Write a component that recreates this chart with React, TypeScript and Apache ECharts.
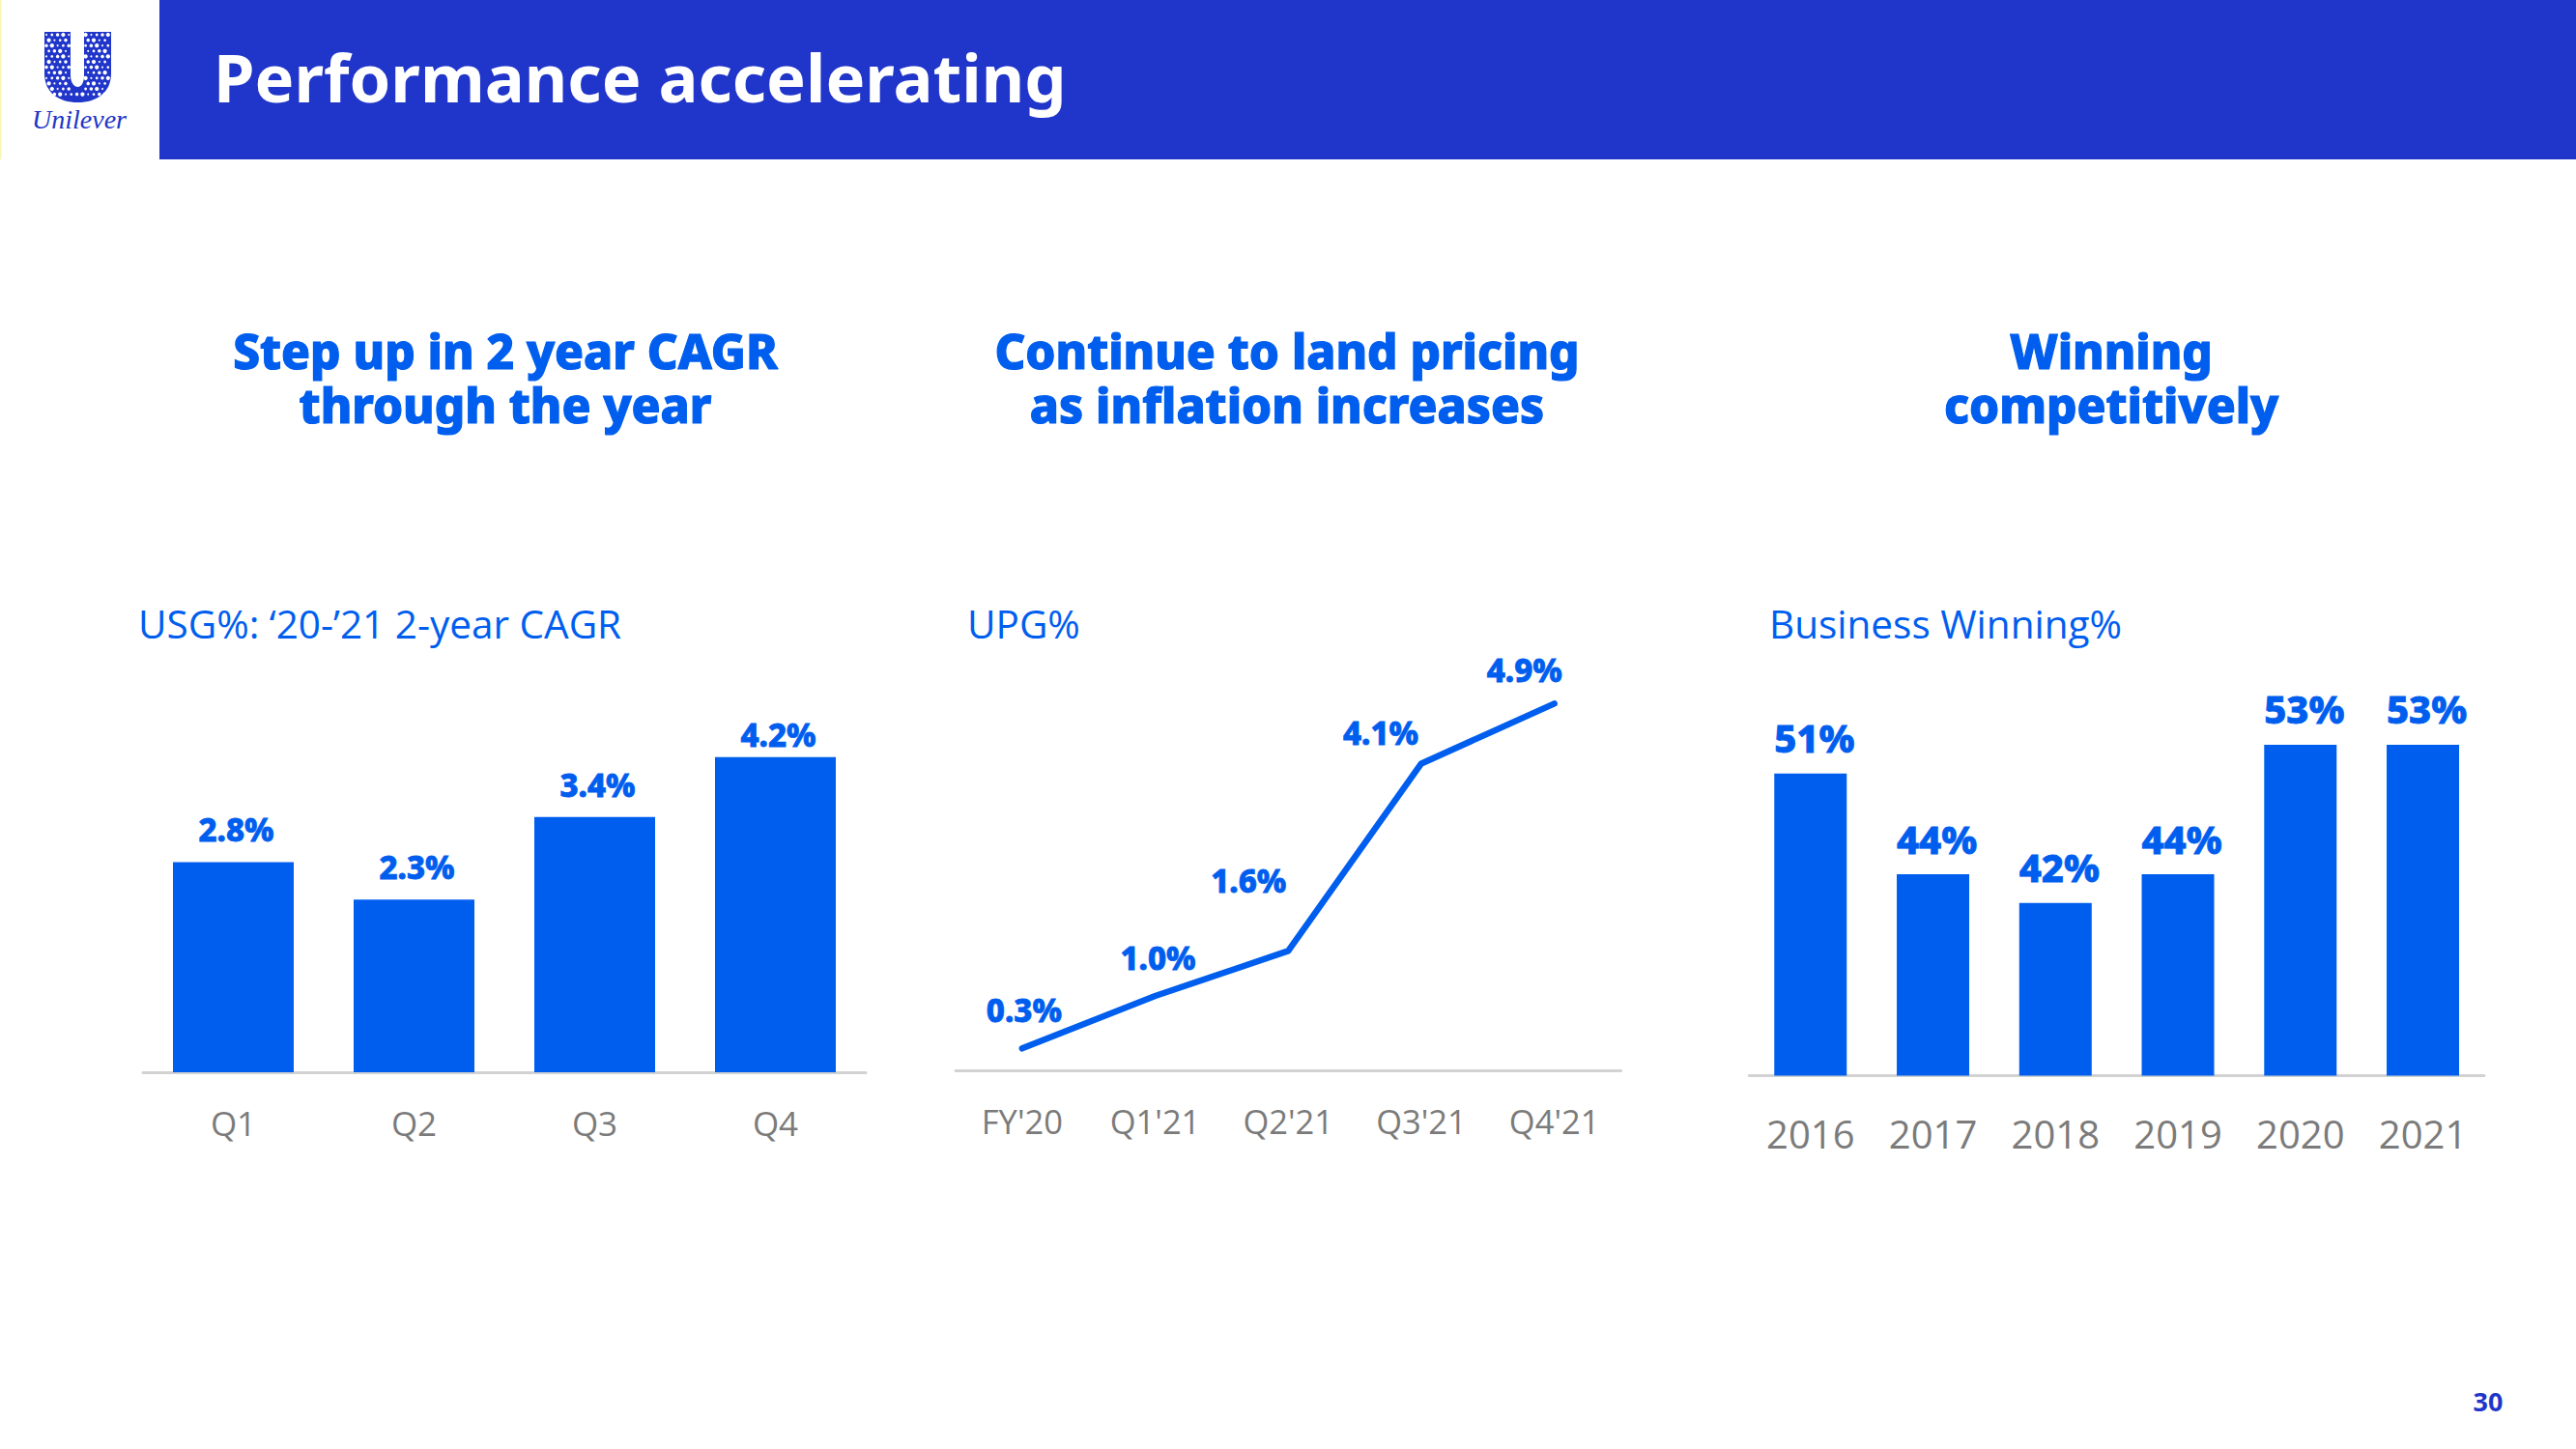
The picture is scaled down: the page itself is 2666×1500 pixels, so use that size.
import React, { useEffect, useRef } from "react";
import * as echarts from "echarts";

const pageTitle = "Performance accelerating";
const headings = [
  ["Step up in 2 year CAGR", "through the year"],
  ["Continue to land pricing", "as inflation increases"],
  ["Winning", "competitively"],
];
const subTitles = ["USG%: ‘20-’21 2-year CAGR", "UPG%", "Business Winning%"];

const usgCategories = ["Q1", "Q2", "Q3", "Q4"];
const usgValues = [2.8, 2.3, 3.4, 4.2];
const upgCategories = ["FY'20", "Q1'21", "Q2'21", "Q3'21", "Q4'21"];
const upgValues = [0.3, 1.0, 1.6, 4.1, 4.9];
const winCategories = ["2016", "2017", "2018", "2019", "2020", "2021"];
const winValues = [51, 44, 42, 44, 53, 53];
const pageNumber = "30";

const usgLabelOffsets = [[3, 0], [3, 0], [3, 0], [3, 10]];
const upgLabelOffsets = [[2, -6], [3, -6], [-41, -39], [-42, 2], [-31, -1]];

const BLUE = "#005eef";
const NAVY = "#2035c9";
const GREY = "#7b7b7b";
const AXIS = "#d2d2d2";
const SANS = "'Noto Sans', 'Open Sans', sans-serif";
const TEXT = "'Open Sans', 'Noto Sans', sans-serif";

const U_PATH =
  "M46 33 H73 V78 C73 86 77 90 80.5 90 C84 90 87 86 87 78 V33 H115 V76 C115 96 100 106 80.5 106 C61 106 46 96 46 76 Z";

function logoDots() {
  const dots: any[] = [];
  for (let r = 0; r < 13; r++) {
    for (let c = 0; c < 12; c++) {
      const x = 48 + c * 5.8 + (r % 2) * 2.6;
      const y = 36 + r * 5.6;
      const inArm = x < 72 || x > 88;
      const inBase = y > 92 && x > 50 && x < 112;
      if (!(inArm || inBase) || x > 113 || y > 103) continue;
      if (y > 84 && (x < 50 || x > 111)) continue;
      dots.push({
        type: "circle",
        shape: { cx: x, cy: y, r: 1 + ((r * 3 + c * 5) % 4) * 0.38 },
        style: { fill: "#ffffff" },
        silent: true,
      });
    }
  }
  return dots;
}

function placedText(text: string, x: number, y: number, fontSize: number, fontWeight: any, fill: string, fontFamily = SANS, align = "center", extra: any = {}) {
  return {
    type: "text",
    x,
    y,
    silent: true,
    style: { text, fontSize, fontWeight, fill, fontFamily, align, verticalAlign: "middle", ...extra },
  };
}

const axisLine = { show: true, lineStyle: { color: AXIS, width: 3 } };

export default function App() {
  const ref = useRef<HTMLDivElement>(null);

  useEffect(() => {
    echarts.graphic.registerShape("unileverU", echarts.graphic.extendPath(U_PATH, {}) as any);
    const chart = echarts.init(ref.current!, undefined, { renderer: "svg", width: 2666, height: 1500 });

    const headingCenters = [523, 1332, 2185];
    const subLefts = [143, 1001, 1831];
    const graphics: any[] = [
      { type: "rect", shape: { x: 165, y: 0, width: 2501, height: 165 }, style: { fill: NAVY }, silent: true },
      { type: "rect", shape: { x: 0, y: 0, width: 1.5, height: 165 }, style: { fill: "#fbf6b4" }, silent: true },
      { type: "unileverU", x: 0, y: 0, style: { fill: NAVY }, silent: true },
      ...logoDots(),
      placedText("Unilever", 82, 123, 28, "normal", NAVY, "'Liberation Serif', serif", "center", { fontStyle: "italic" }),
      placedText(pageTitle, 221, 79, 68.5, 700, "#ffffff", SANS, "left"),
      placedText(pageNumber, 2575, 1450, 27, 700, NAVY),
    ];
    headings.forEach((lines, i) => {
      graphics.push(
        placedText(lines.join("\n"), headingCenters[i], 391, 49.5, 800, BLUE, SANS, "center", {
          lineHeight: 56,
          stroke: BLUE,
          lineWidth: 1.2,
        })
      );
    });
    subTitles.forEach((s, i) => {
      graphics.push(placedText(s, subLefts[i], 645, 40.5, 400, BLUE, TEXT, "left"));
    });

    const xAxisBase = { type: "category", axisTick: { show: false }, axisLine };
    const tick = (fontSize: number, margin: number) => ({
      color: GREY, fontSize, fontFamily: TEXT, margin, interval: 0,
    });
    const valueLabel = (fontSize: number, distance: number, formatter: any) => ({
      show: true, position: "top", distance, color: BLUE, fontSize, fontWeight: 800,
      fontFamily: SANS, textBorderColor: BLUE, textBorderWidth: 0.8, formatter,
    });

    chart.setOption({
      animation: false,
      backgroundColor: "#ffffff",
      grid: [
        { left: 148, width: 748, top: 721.5, height: 388.5 },
        { left: 989, width: 688.5, top: 720.6, height: 388 },
        { left: 1810.4, width: 760.5, top: 666.6, height: 447 },
      ],
      xAxis: [
        { ...xAxisBase, gridIndex: 0, data: usgCategories, axisLabel: tick(35, 35) },
        { ...xAxisBase, gridIndex: 1, data: upgCategories, axisLabel: tick(34.5, 34) },
        { ...xAxisBase, gridIndex: 2, data: winCategories, axisLabel: tick(40, 40) },
      ],
      yAxis: [
        { type: "value", gridIndex: 0, min: 0, max: 5, show: false },
        { type: "value", gridIndex: 1, min: 0, max: 5, show: false },
        { type: "value", gridIndex: 2, min: 30, max: 60, show: false },
      ],
      series: [
        {
          type: "bar",
          xAxisIndex: 0,
          yAxisIndex: 0,
          data: usgValues.map((value, i) => ({ value, label: { offset: usgLabelOffsets[i] } })),
          barWidth: 125,
          itemStyle: { color: BLUE },
          label: valueLabel(33, 17, (p: any) => `${Number(p.value).toFixed(1)}%`),
        },
        {
          type: "line",
          xAxisIndex: 1,
          yAxisIndex: 1,
          data: upgValues.map((value, i) => ({ value, label: { offset: upgLabelOffsets[i] } })),
          symbol: "circle",
          symbolSize: 1,
          showSymbol: true,
          showAllSymbol: true,
          itemStyle: { color: BLUE },
          lineStyle: { color: BLUE, width: 6.5, cap: "round", join: "round" },
          label: valueLabel(33, 17, (p: any) => `${Number(p.value).toFixed(1)}%`),
        },
        {
          type: "bar",
          xAxisIndex: 2,
          yAxisIndex: 2,
          data: winValues,
          barWidth: 75,
          itemStyle: { color: BLUE },
          label: { ...valueLabel(40, 17, (p: any) => `${p.value}%`), offset: [4, 0] },
        },
      ],
      graphic: { elements: graphics },
    });
    return () => chart.dispose();
  }, []);

  return <div ref={ref} style={{ position: "fixed", left: 0, top: 0, width: 2666, height: 1500 }} />;
}
